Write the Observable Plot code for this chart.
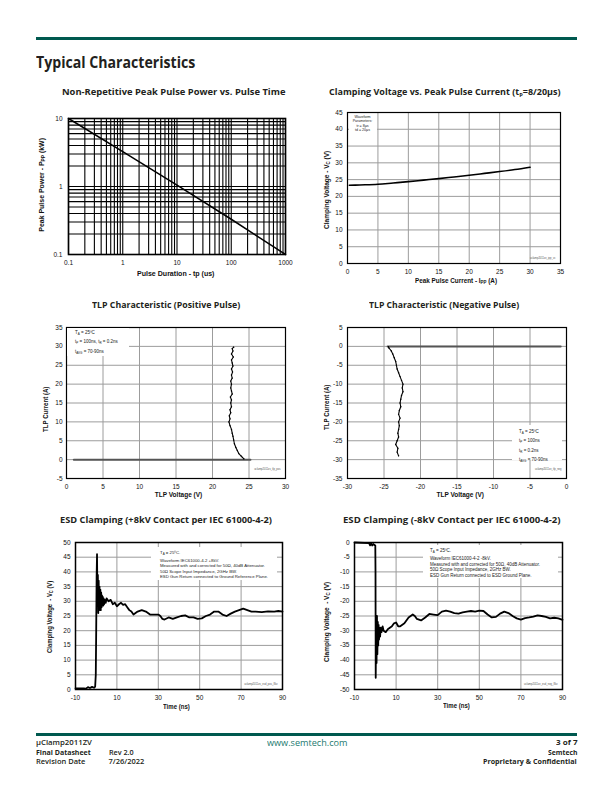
<!DOCTYPE html>
<html><head><meta charset="utf-8">
<script src="https://cdn.jsdelivr.net/npm/d3@7"></script>
<script src="https://cdn.jsdelivr.net/npm/@observablehq/plot@0.6"></script>
<style>
html,body{margin:0;padding:0}
body{width:612px;height:792px;position:relative;background:#fff;font-family:"Open Sans",sans-serif;color:#231f20;overflow:hidden}
.abs{position:absolute;left:0;top:0;white-space:nowrap;line-height:1}
.bar{position:absolute;background:#00594f}
.ttl{font-weight:700;font-size:9.5px;color:#231f20}
.axl{font-family:"Liberation Sans",Arial,sans-serif;font-weight:700;font-size:6.5px;color:#111}
.axl sub{font-size:4.5px;vertical-align:-1.2px}
.ttl sub{font-size:6px;vertical-align:-2px}
.note{position:absolute;background:#fff;font-family:"Liberation Sans",Arial,sans-serif;font-size:4.3px;color:#222;white-space:nowrap;box-sizing:border-box}
.note sub{font-size:3px;vertical-align:-1px}
.foot{font-size:7.5px;font-weight:600}
.chart{position:absolute}
.chart svg{overflow:visible}
</style></head><body>
<script>
// ---------- DATA ----------
// Chart 1: Non-repetitive peak pulse power vs pulse time
const pulseTime = [0.1, 1, 10, 100, 1000];          // us
const pulsePower = [10, 3.25, 1.05, 0.33, 0.1];     // kW
const powerTicksX = [0.1, 1, 10, 100, 1000];
const powerTicksY = [0.1, 1, 10];

// Chart 2: Clamping voltage vs peak pulse current
const ippCurrent = [0.3, 2, 5, 7.5, 10, 12.5, 15, 17.5, 20, 22.5, 25, 27.5, 30];
const ippVoltage = [23.3, 23.4, 23.6, 24.0, 24.4, 24.85, 25.3, 25.8, 26.3, 26.85, 27.4, 28.0, 28.7];
const ippTicksX = [0, 5, 10, 15, 20, 25, 30, 35];
const ippTicksY = [0, 5, 10, 15, 20, 25, 30, 35, 40, 45];

// Chart 3: TLP positive
const tlpPosLeakV = [1, 25.2];
const tlpPosLeakI = [0, 0];
const tlpPosV = [24.3,24.1,23.9,23.6,23.4,23.2,23.0,22.9,22.8,22.7,22.6,22.4,22.25,22.4,22.3,22.5,22.4,22.6,22.5,22.6,22.45,22.7,22.6,22.5,22.6,22.5,22.7,22.6,22.75,22.6,22.8,22.7,22.6,22.85,22.6,22.8,22.7,22.9];
const tlpPosI = [0.2,0.6,1.0,1.6,2.4,3.2,4.2,5.2,6.2,7.0,8.0,9.0,10.0,10.8,11.6,12.4,13.2,14.0,15.0,15.8,16.6,17.4,18.2,19.0,20.0,20.8,21.6,22.4,23.2,24.0,24.8,25.6,26.4,27.2,28.0,28.8,29.4,29.8];
const tlpPosTicksX = [0, 5, 10, 15, 20, 25, 30];
const tlpPosTicksY = [-5, 0, 5, 10, 15, 20, 25, 30, 35];

// Chart 4: TLP negative
const tlpNegLeakV = [-24.5, -0.8];
const tlpNegLeakI = [0, 0];
const tlpNegV = [-24.4,-24.3,-24.0,-23.8,-23.6,-23.4,-23.3,-23.2,-23.0,-22.8,-22.6,-22.4,-22.5,-22.4,-22.6,-22.7,-22.8,-22.7,-22.9,-23.0,-22.8,-23.0,-22.9,-23.0,-23.1,-23.0,-23.2,-23.4,-23.1,-23.2,-23.0];
const tlpNegI = [-0.1,-0.5,-1.2,-2,-3,-4,-5,-6,-7,-8,-9,-10,-11,-12,-13,-14,-15,-16,-17,-18,-19,-20,-21,-22,-23,-24,-25,-26,-27,-28,-29];
const tlpNegTicksX = [-30, -25, -20, -15, -10, -5, 0];
const tlpNegTicksY = [-35, -30, -25, -20, -15, -10, -5, 0, 5];

// Chart 5: ESD clamping +8kV
const esdPosT = [-10,-6,-5,-4,-3,-2,-1,-0.5,-0.2,0,0.2,0.4,0.6,0.8,1.0,1.2,1.4,1.6,1.8,2.0,2.2,2.4,2.6,2.8,3.0,3.2,3.4,3.6,3.8,4.2,4.6,5,6,7,8,9,10,11,12,13,14,15,16,17,18,19,20,22,24,26,28,30,31,32,33,35,37,39,41,43,45,47,49,51,53,55,57,59,61,63,65,67,69,71,73,75,77,80,83,86,88,90];
const esdPosV = [0.4,0.4,0.3,0.8,0.5,0.9,0.6,1,5,20,38,46,30,39,26,37,27,35,28,34,27,33,28,32,29,31.5,28.5,31,29,30.5,29.5,31,30,30.5,29,29.5,28.3,29,29.5,28.8,29,28,27,26.5,25.5,26,26.5,27,26.5,25.5,25.5,25.5,25,24,23.8,24.5,24,24.5,25,25.2,24.5,24.5,24,24.2,25,25.5,26.5,26.5,25.5,25,25.8,26.5,27,27.5,27,26.5,26.5,26.3,26.6,26.5,26.7,26.5];
const esdPosTicksX = [-10, 10, 30, 50, 70, 90];
const esdPosTicksY = [0, 5, 10, 15, 20, 25, 30, 35, 40, 45, 50];

// Chart 6: ESD clamping -8kV
const esdNegT = [-10,-3,-2.5,-2,-1.5,-1,-0.5,0,0.1,0.2,0.4,0.6,0.8,1.0,1.2,1.4,1.6,1.8,2.0,2.3,2.6,3,3.5,4,5,6,7,8,9,10,11,12,14,16,18,19,20,22,24,26,28,30,32,34,36,38,40,42,44,46,48,50,52,54,56,58,60,62,64,66,68,70,72,74,76,78,80,82,84,86,88,90];
const esdNegV = [0,-0.2,-1,-0.3,-1,-0.5,-0.8,-1,-10,-46,-26,-41,-25,-38,-27,-35,-28,-33,-29,-32,-29,-30.5,-28.5,-30,-30.5,-29.5,-29,-28.5,-27.5,-27.2,-28.5,-28.5,-27.5,-25.5,-24.5,-25,-26,-26.5,-25.5,-24.3,-24.5,-24.7,-23.5,-23.2,-23.5,-24,-24.2,-23.8,-23.5,-23.3,-23.5,-23.2,-23.3,-24.5,-25.5,-25.3,-24.2,-23.5,-24,-25,-25.8,-26.2,-25.7,-25.5,-25.2,-24.8,-25,-25.3,-25.8,-25.6,-25.8,-26.3];
const esdNegTicksX = [-10, 10, 30, 50, 70, 90];
const esdNegTicksY = [-50, -45, -40, -35, -30, -25, -20, -15, -10, -5, 0];

// ---------- HELPERS ----------
const page = document.body;
function put(html, x, y, {cls = "", anchor = "c", w = null, rot = false, style = ""} = {}) {
  const el = document.createElement("div");
  el.className = "abs " + cls;
  el.innerHTML = html;
  if (style) el.style.cssText += style;
  page.appendChild(el);
  const bw = el.offsetWidth, bh = el.offsetHeight;
  const sx = w ? w / bw : 1;
  if (rot) {
    el.style.left = (x - bw / 2) + "px";
    el.style.top = (y - bh / 2) + "px";
    el.style.transform = `rotate(-90deg) scaleX(${sx})`;
  } else {
    const fw = bw * sx;
    const left = anchor === "c" ? x - fw / 2 : anchor === "r" ? x - fw : x;
    el.style.left = left + "px";
    el.style.top = (y - bh / 2) + "px";
    el.style.transformOrigin = "0 50%";
    el.style.transform = `scaleX(${sx})`;
  }
  return el;
}
function bar(x, y, w, h) {
  const d = document.createElement("div");
  d.className = "bar";
  Object.assign(d.style, {left: x + "px", top: y + "px", width: w + "px", height: h + "px"});
  page.appendChild(d);
}
function note(html, x, y, w, h, style = "") {
  const d = document.createElement("div");
  d.className = "note";
  d.innerHTML = html;
  Object.assign(d.style, {left: x + "px", top: y + "px", width: w + "px", height: h + "px"});
  if (style) d.style.cssText += style;
  page.appendChild(d);
}
function place(svg, x, y) {
  const d = document.createElement("div");
  d.className = "chart";
  d.style.left = x + "px"; d.style.top = y + "px";
  d.appendChild(svg);
  page.appendChild(d);
}
const zip = (xs, ys) => xs.map((x, i) => ({x, y: ys[i]}));
const baseStyle = {fontFamily: "Liberation Sans, Arial, sans-serif", fontSize: "6.5px", color: "#111", background: "transparent", overflow: "visible"};
const logGrid = (lo, hi) => { const out = []; for (let d = lo; d < hi * 1.0001; d *= 10) for (let k = 1; k <= 9; k++) { const v = +(d * k).toPrecision(3); if (v <= hi * 1.0001) out.push(v); } return out; };
const fmt = d => String(d);

// ---------- PAGE CHROME ----------
bar(36, 37, 541, 3);
put("Typical Characteristics", 36, 62, {cls: "ttl", anchor: "l", w: 159, style: "font-size:16px"});

// ---------- CHART 1 ----------
place(Plot.plot({
  width: 265, height: 185, marginLeft: 38, marginRight: 10, marginTop: 13, marginBottom: 36,
  style: baseStyle,
  x: {type: "log", domain: [0.1, 1000]},
  y: {type: "log", domain: [0.1, 10]},
  marks: [
    Plot.ruleX(logGrid(0.1, 1000), {stroke: "#000", strokeWidth: 1.1}),
    Plot.ruleY(logGrid(0.1, 10), {stroke: "#000", strokeWidth: 1.1}),
    Plot.line(zip(pulseTime, pulsePower), {x: "x", y: "y", stroke: "#000", strokeWidth: 1.5, curve: "monotone-x"}),
    Plot.frame({stroke: "#000", strokeWidth: 1.6}),
    Plot.axisX({ticks: powerTicksX, tickSize: 0, tickPadding: 6, tickFormat: fmt, label: null}),
    Plot.axisY({ticks: powerTicksY, tickSize: 0, tickPadding: 6, tickFormat: fmt, label: null})
  ]
}), 30, 105);
put("Non-Repetitive Peak Pulse Power vs. Pulse Time", 173.3, 91.7, {cls: "ttl", w: 223});
put("Pulse Duration - tp (us)", 176, 274.5, {cls: "axl", w: 78});
put("Peak Pulse Power - P<sub>PP</sub> (kW)", 42.7, 185, {cls: "axl", rot: true, w: 94});

// ---------- CHART 2 ----------
place(Plot.plot({
  width: 260, height: 195, marginLeft: 32, marginRight: 15, marginTop: 12, marginBottom: 32,
  style: baseStyle,
  x: {domain: [0, 35]},
  y: {domain: [0, 45]},
  marks: [
    Plot.gridX({ticks: ippTicksX, stroke: "#9c9c9c", strokeOpacity: 1}),
    Plot.gridY({ticks: ippTicksY, stroke: "#9c9c9c", strokeOpacity: 1}),
    Plot.line(zip(ippCurrent, ippVoltage), {x: "x", y: "y", stroke: "#000", strokeWidth: 1.6, curve: "monotone-x"}),
    Plot.frame({stroke: "#000", strokeWidth: 1.2}),
    Plot.text(["uclamp2011zv_ipp_vc"], {frameAnchor: "bottom-right", dx: -5, dy: -5, fontSize: 2.6, fill: "#555"}),
    Plot.axisX({ticks: ippTicksX, tickSize: 0, tickPadding: 6, tickFormat: fmt, label: null}),
    Plot.axisY({ticks: ippTicksY, tickSize: 0, tickPadding: 5, tickFormat: fmt, label: null})
  ]
}), 315, 100);
note("Waveform<br>Parameters:<br>tr = 8µs<br>td = 20µs", 348.5, 113.5, 28, 20, "font-size:3.6px;line-height:4.6px;text-align:center;padding-top:1px");
put("Clamping Voltage vs. Peak Pulse Current (t<sub>P</sub>=8/20µs)", 444.7, 92.7, {cls: "ttl", w: 232});
put("Peak Pulse Current - I<sub>PP</sub> (A)", 455.7, 282, {cls: "axl", w: 82});
put("Clamping Voltage - V<sub>C</sub> (V)", 328, 190, {cls: "axl", rot: true, w: 78});

// ---------- CHART 3 ----------
place(Plot.plot({
  width: 265, height: 190, marginLeft: 36, marginRight: 10, marginTop: 12, marginBottom: 27,
  style: baseStyle,
  x: {domain: [0, 30]},
  y: {domain: [-5, 35]},
  marks: [
    Plot.gridX({ticks: tlpPosTicksX, stroke: "#9c9c9c", strokeOpacity: 1}),
    Plot.gridY({ticks: tlpPosTicksY, stroke: "#9c9c9c", strokeOpacity: 1}),
    Plot.line(zip(tlpPosLeakV, tlpPosLeakI), {x: "x", y: "y", stroke: "#555", strokeWidth: 2}),
    Plot.line(zip(tlpPosV, tlpPosI), {x: "x", y: "y", stroke: "#000", strokeWidth: 1.1}),
    Plot.dot(zip(tlpPosV, tlpPosI), {x: "x", y: "y", r: 0.7, fill: "#000"}),
    Plot.frame({stroke: "#000", strokeWidth: 1.2}),
    Plot.text(["uclamp2011zv_tlp_pos"], {frameAnchor: "bottom-right", dx: -5, dy: -9, fontSize: 2.6, fill: "#555"}),
    Plot.axisX({ticks: tlpPosTicksX, tickSize: 0, tickPadding: 6, tickFormat: fmt, label: null}),
    Plot.axisY({ticks: tlpPosTicksY, tickSize: 0, tickPadding: 4, tickFormat: fmt, label: null})
  ]
}), 30, 315);
note("T<sub>A</sub> = 25ºC<br>t<sub>P</sub> = 100ns, t<sub>R</sub> = 0.2ns<br>t<sub>AVG</sub> = 70-90ns", 67, 328, 62, 28, "font-size:4.5px;line-height:8.3px;padding-left:8px;padding-top:1px");
put("TLP Characteristic (Positive Pulse)", 165.8, 305, {cls: "ttl", w: 148});
put("TLP Voltage (V)", 178.3, 495.7, {cls: "axl", w: 47});
put("TLP Current (A)", 46, 409, {cls: "axl", rot: true, w: 45});

// ---------- CHART 4 ----------
place(Plot.plot({
  width: 262, height: 190, marginLeft: 32, marginRight: 11, marginTop: 12, marginBottom: 27,
  style: baseStyle,
  x: {domain: [-30, 0]},
  y: {domain: [-35, 5]},
  marks: [
    Plot.gridX({ticks: tlpNegTicksX, stroke: "#9c9c9c", strokeOpacity: 1}),
    Plot.gridY({ticks: tlpNegTicksY, stroke: "#9c9c9c", strokeOpacity: 1}),
    Plot.line(zip(tlpNegLeakV, tlpNegLeakI), {x: "x", y: "y", stroke: "#555", strokeWidth: 2}),
    Plot.line(zip(tlpNegV, tlpNegI), {x: "x", y: "y", stroke: "#000", strokeWidth: 1.1}),
    Plot.dot(zip(tlpNegV, tlpNegI), {x: "x", y: "y", r: 0.7, fill: "#000"}),
    Plot.frame({stroke: "#000", strokeWidth: 1.2}),
    Plot.text(["uclamp2011zv_tlp_neg"], {frameAnchor: "bottom-right", dx: -5, dy: -9, fontSize: 2.6, fill: "#555"}),
    Plot.axisX({ticks: tlpNegTicksX, tickSize: 0, tickPadding: 6, tickFormat: fmt, label: null}),
    Plot.axisY({ticks: tlpNegTicksY, tickSize: 0, tickPadding: 5, tickFormat: fmt, label: null})
  ]
}), 315, 315);
note("T<sub>A</sub> = 25ºC<br>t<sub>P</sub> = 100ns<br>t<sub>R</sub> = 0.2ns<br>t<sub>AVG</sub> = 70-90ns", 512, 425, 50, 35, "font-size:4.5px;line-height:7.4px;padding-left:7px;padding-top:3px");
put("TLP Characteristic (Negative Pulse)", 443.7, 305, {cls: "ttl", w: 150});
put("TLP Voltage (V)", 460, 495.7, {cls: "axl", w: 47});
put("TLP Current (A)", 326.7, 407, {cls: "axl", rot: true, w: 45});

// ---------- CHART 5 ----------
place(Plot.plot({
  width: 262, height: 190, marginLeft: 45, marginRight: 10, marginTop: 12, marginBottom: 31,
  style: baseStyle,
  x: {domain: [-10, 90]},
  y: {domain: [0, 50]},
  marks: [
    Plot.gridX({ticks: esdPosTicksX, stroke: "#9c9c9c", strokeOpacity: 1}),
    Plot.gridY({ticks: esdPosTicksY, stroke: "#9c9c9c", strokeOpacity: 1}),
    Plot.line(zip(esdPosT, esdPosV), {x: "x", y: "y", stroke: "#000", strokeWidth: 1.8}),
    Plot.frame({stroke: "#000", strokeWidth: 1.5}),
    Plot.text(["uclamp2011zv_esd_pos_8kv"], {frameAnchor: "bottom-right", dx: -5, dy: -5, fontSize: 2.6, fill: "#555"}),
    Plot.axisX({ticks: esdPosTicksX, tickSize: 0, tickPadding: 6, tickFormat: fmt, label: null}),
    Plot.axisY({ticks: esdPosTicksY, tickSize: 0, tickPadding: 5, tickFormat: fmt, label: null})
  ]
}), 30, 530);
note("T<sub>A</sub> = 25ºC.<br>Waveform IEC61000-4-2 +8kV.<br>Measured with and corrected for 50Ω, 40dB Attenuator.<br>50Ω Scope Input Impedance, 2GHz BW.<br>ESD Gun Return connected to Ground Reference Plane.", 151, 547, 126, 33, "line-height:5.6px;padding-left:9px;padding-top:3px");
put("ESD Clamping (+8kV Contact per IEC 61000-4-2)", 166, 520, {cls: "ttl", w: 212});
put("Time (ns)", 176.7, 707.3, {cls: "axl", w: 27});
put("Clamping Voltage&nbsp; - V<sub>C</sub> (V)", 50.7, 617, {cls: "axl", rot: true, w: 72});

// ---------- CHART 6 ----------
place(Plot.plot({
  width: 262, height: 190, marginLeft: 39, marginRight: 15, marginTop: 12, marginBottom: 31,
  style: baseStyle,
  x: {domain: [-10, 90]},
  y: {domain: [-50, 0]},
  marks: [
    Plot.gridX({ticks: esdNegTicksX, stroke: "#9c9c9c", strokeOpacity: 1}),
    Plot.gridY({ticks: esdNegTicksY, stroke: "#9c9c9c", strokeOpacity: 1}),
    Plot.line(zip(esdNegT, esdNegV), {x: "x", y: "y", stroke: "#000", strokeWidth: 1.8}),
    Plot.frame({stroke: "#000", strokeWidth: 1.5}),
    Plot.text(["uclamp2011zv_esd_neg_8kv"], {frameAnchor: "bottom-right", dx: -5, dy: -5, fontSize: 2.6, fill: "#555"}),
    Plot.axisX({ticks: esdNegTicksX, tickSize: 0, tickPadding: 6, tickFormat: fmt, label: null}),
    Plot.axisY({ticks: esdNegTicksY, tickSize: 0, tickPadding: 5, tickFormat: fmt, label: null})
  ]
}), 315, 530);
note("T<sub>A</sub> = 25ºC.<br>Waveform IEC61000-4-2 -8kV.<br>Measured with and corrected for 50Ω, 40dB Attenuator.<br>50Ω Scope Input Impedance, 2GHz BW.<br>ESD Gun Return connected to ESD Ground Plane.", 423, 545, 135, 33, "line-height:5.8px;padding-left:7px;padding-top:3px;font-size:4.5px");
put("ESD Clamping (-8kV Contact per IEC 61000-4-2)", 451.7, 520, {cls: "ttl", w: 218});
put("Time (ns)", 456.7, 706.7, {cls: "axl", w: 27});
put("Clamping Voltage&nbsp; - V<sub>C</sub> (V)", 328, 622, {cls: "axl", rot: true, w: 80});

// ---------- FOOTER ----------
bar(36, 733, 541, 2.5);
put("µClamp2011ZV", 36, 743, {cls: "foot", anchor: "l", w: 56});
put("Final Datasheet", 36, 752.5, {cls: "foot", anchor: "l", w: 55, style: "font-weight:700"});
put("Revision Date", 36, 762, {cls: "foot", anchor: "l", w: 49});
put("Rev 2.0", 108.5, 752.5, {cls: "foot", anchor: "l", w: 25});
put("7/26/2022", 108.5, 762, {cls: "foot", anchor: "l", w: 36});
put("www.semtech.com", 306.5, 742, {anchor: "c", w: 80, style: "font-size:9px;color:#1d7a6f"});
put("3 of 7", 577, 743, {cls: "foot", anchor: "r", w: 21.5, style: "font-weight:700"});
put("Semtech", 577, 752.5, {cls: "foot", anchor: "r", w: 29, style: "font-weight:700"});
put("Proprietary &amp; Confidential", 577, 762, {cls: "foot", anchor: "r", w: 94, style: "font-weight:700"});
</script>
</body></html>
